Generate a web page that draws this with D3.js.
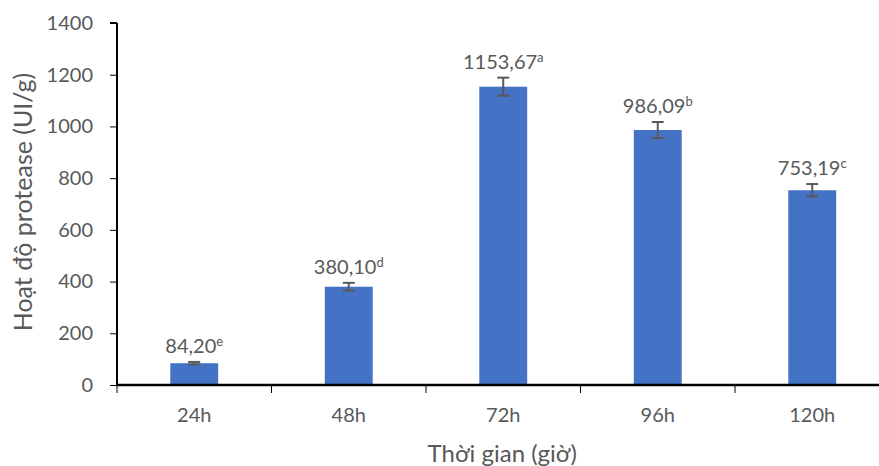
<!DOCTYPE html>
<html>
<head>
<meta charset="utf-8">
<script src="https://cdn.jsdelivr.net/npm/d3@7"></script>
<style>
  html, body { margin: 0; padding: 0; background: #fff; }
  svg { display: block; }
</style>
</head>
<body>
<svg id="chart" width="879" height="466"></svg>
<script>
// Protease activity over fermentation time
const categories = ["24h", "48h", "72h", "96h", "120h"];
const values = [84.20, 380.10, 1153.67, 986.09, 753.19];
const errors = [5, 15, 35, 31, 24];
const letters = ["e", "d", "a", "b", "c"];
const yTicks = [0, 200, 400, 600, 800, 1000, 1200, 1400];

const svg = d3.select("#chart");
const font = "Lato, 'Noto Sans', sans-serif";
const textColor = "#595959";
const barColor = "#4472C4";

const plotLeft = 117, plotTop = 23, plotBottom = 385, bandW = 154.5;
const plotRight = plotLeft + bandW * categories.length;

const x = d3.scaleBand().domain(categories).range([plotLeft, plotRight]).paddingInner(0.69).paddingOuter(0.345);
const y = d3.scaleLinear().domain([0, 1400]).range([plotBottom, plotTop]);

// Bars
svg.append("g").selectAll("rect").data(values).join("rect")
  .attr("x", (d, i) => x(categories[i]))
  .attr("width", x.bandwidth())
  .attr("y", d => y(d))
  .attr("height", d => y(0) - y(d))
  .attr("fill", barColor);

// Error bars
const eb = svg.append("g").attr("stroke", "#595959").attr("stroke-width", 2).attr("fill", "none");
values.forEach((v, i) => {
  const cx = x(categories[i]) + x.bandwidth() / 2;
  const e = errors[i];
  eb.append("line").attr("x1", cx).attr("x2", cx).attr("y1", y(v + e)).attr("y2", y(v - e));
  eb.append("line").attr("x1", cx - 6).attr("x2", cx + 6).attr("y1", y(v + e)).attr("y2", y(v + e));
  eb.append("line").attr("x1", cx - 6).attr("x2", cx + 6).attr("y1", y(v - e)).attr("y2", y(v - e));
});

// Value labels with significance letters
const fmt = v => d3.format(".2f")(v).replace(".", ",");
const lab = svg.append("g").attr("font-family", font).attr("fill", textColor);
values.forEach((v, i) => {
  const cx = x(categories[i]) + x.bandwidth() / 2;
  const t = lab.append("text")
    .attr("x", cx)
    .attr("y", y(v + errors[i]) - 9)
    .attr("text-anchor", "middle")
    .attr("font-size", 20);
  t.append("tspan").text(fmt(v));
  t.append("tspan").attr("font-size", 13).attr("dy", -7).text(letters[i]);
});

// Y axis
const yAxis = svg.append("g")
  .attr("transform", `translate(${plotLeft},0)`)
  .call(d3.axisLeft(y).tickValues(yTicks).tickSize(7).tickPadding(17).tickFormat(d3.format("d")));
yAxis.select(".domain").attr("stroke", "#000").attr("stroke-width", 2).attr("d", `M0,${plotTop}V${plotBottom}`);
yAxis.selectAll(".tick line").attr("stroke", "#000").attr("stroke-width", 1);
yAxis.selectAll(".tick text").attr("font-family", font).attr("font-size", 20).attr("fill", textColor);
svg.append("line").attr("x1", plotLeft - 7).attr("x2", plotLeft).attr("y1", plotTop).attr("y2", plotTop).attr("stroke", "#000").attr("stroke-width", 2);

// X axis
const xb = d3.scaleLinear().domain([0, categories.length]).range([plotLeft, plotRight]);
const xAxis = svg.append("g").attr("transform", `translate(0,${plotBottom})`);
xAxis.append("line").attr("x1", plotLeft - 1).attr("x2", plotRight).attr("stroke", "#000").attr("stroke-width", 2.5);
xAxis.selectAll("line.tk").data(d3.range(categories.length + 1)).join("line")
  .attr("class", "tk")
  .attr("x1", d => xb(d)).attr("x2", d => xb(d))
  .attr("y1", 0).attr("y2", 8)
  .attr("stroke", "#000").attr("stroke-width", 1);
xAxis.selectAll("text").data(categories).join("text")
  .attr("x", d => x(d) + x.bandwidth() / 2)
  .attr("y", 37)
  .attr("text-anchor", "middle")
  .attr("font-family", font).attr("font-size", 20).attr("fill", textColor)
  .text(d => d);

// Axis titles
svg.append("text")
  .attr("x", (plotLeft + plotRight) / 2 - 1)
  .attr("y", 462)
  .attr("text-anchor", "middle")
  .attr("font-family", font).attr("font-size", 24).attr("fill", textColor)
  .text("Thời gian (giờ)");

svg.append("text")
  .attr("transform", `translate(32,${(plotTop + plotBottom) / 2 - 2}) rotate(-90)`)
  .attr("text-anchor", "middle")
  .attr("font-family", font).attr("font-size", 25).attr("fill", textColor)
  .text("Hoạt độ protease (UI/g)");
</script>
</body>
</html>
